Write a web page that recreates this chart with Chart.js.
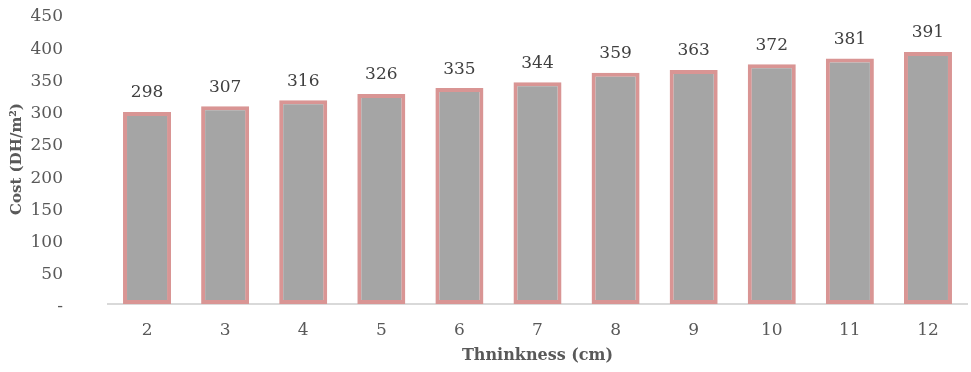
<!DOCTYPE html>
<html>
<head>
<meta charset="utf-8">
<script src="https://cdn.jsdelivr.net/npm/chart.js@4/dist/chart.umd.min.js"></script>
<style>
  html, body { margin: 0; padding: 0; background: #ffffff; }
  #wrap { width: 971px; height: 372px; }
</style>
</head>
<body>
<div id="wrap"><canvas id="chart" width="971" height="372"></canvas></div>
<script>
// Insulation thickness (cm) and the resulting cost per square metre
const thicknessLabels = ['2', '3', '4', '5', '6', '7', '8', '9', '10', '11', '12'];
const costValues = [298, 307, 316, 326, 335, 344, 359, 363, 372, 381, 391];
const yTickValues = [0, 50, 100, 150, 200, 250, 300, 350, 400, 450];

const FONT = '"DejaVu Serif", "Liberation Serif", serif';

// Writes each bar's value above it
const valueLabels = {
  id: 'valueLabels',
  afterDatasetsDraw(chart) {
    const ctx = chart.ctx;
    const meta = chart.getDatasetMeta(0);
    ctx.save();
    ctx.font = '17px ' + FONT;
    ctx.fillStyle = '#404040';
    ctx.textAlign = 'center';
    ctx.textBaseline = 'middle';
    meta.data.forEach((bar, i) => {
      ctx.fillText(String(costValues[i]), bar.x, bar.y - 19);
    });
    ctx.restore();
  }
};

new Chart(document.getElementById('chart'), {
  type: 'bar',
  data: {
    labels: thicknessLabels,
    datasets: [{
      data: costValues,
      backgroundColor: '#A5A5A5',
      borderColor: '#D99594',
      borderWidth: 4,
      borderSkipped: false,
      barPercentage: 0.615,
      categoryPercentage: 1.0
    }]
  },
  options: {
    responsive: false,
    animation: false,
    layout: { padding: { top: 14, right: 4, left: 0, bottom: 0 } },
    plugins: {
      legend: { display: false },
      tooltip: { enabled: false }
    },
    scales: {
      x: {
        afterFit(scale) { scale.height = 68; },
        grid: { display: false },
        border: { display: true, color: '#D9D9D9', width: 2 },
        ticks: { color: '#595959', font: { family: FONT, size: 17 }, padding: 8 },
        title: {
          display: true,
          text: 'Thninkness (cm)',
          color: '#595959',
          font: { family: FONT, size: 16, weight: 'bold' },
          padding: { top: 2, bottom: 7 }
        }
      },
      y: {
        min: 0,
        max: 450,
        afterBuildTicks(scale) {
          scale.ticks = yTickValues.map(v => ({ value: v }));
        },
        afterFit(scale) {
          // fixed axis width; keep only a little room above the top tick
          scale.width = 108;
          scale.paddingTop = 3;
          scale.paddingBottom = 3;
        },
        grid: { display: false },
        border: { display: false },
        ticks: {
          color: '#595959',
          font: { family: FONT, size: 17 },
          padding: 37,
          labelOffset: 3,
          callback: (v) => (v === 0 ? '-' : v)
        },
        title: {
          display: true,
          text: 'Cost (DH/m²)',
          color: '#595959',
          font: { family: FONT, size: 15, weight: 'bold' },
          padding: { top: 8, bottom: 0 }
        }
      }
    }
  },
  plugins: [valueLabels]
});
</script>
</body>
</html>
